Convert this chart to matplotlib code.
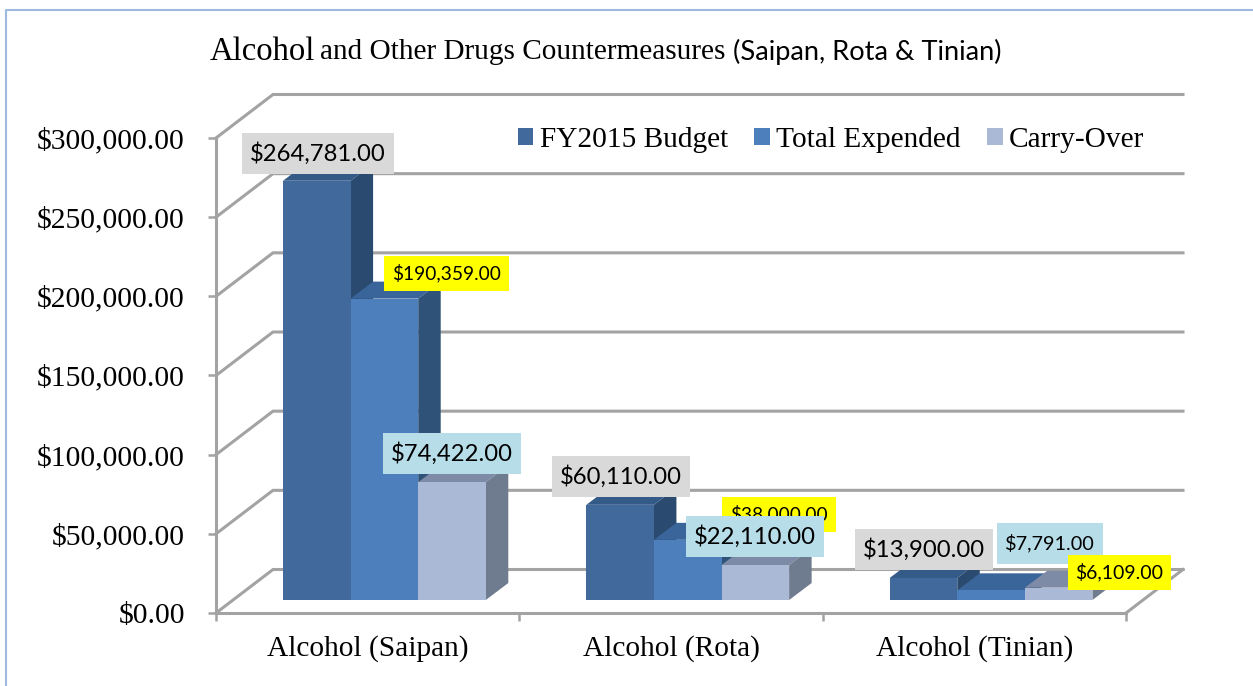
import matplotlib
matplotlib.use('Agg')
import matplotlib.pyplot as plt
from matplotlib.patches import Polygon, Rectangle, Patch
from matplotlib.ticker import FuncFormatter

categories = ['Alcohol (Saipan)', 'Alcohol (Rota)', 'Alcohol (Tinian)']
budget = [264781, 60110, 13900]
expended = [190359, 38000, 6109]
carry_over = [74422, 22110, 7791]

series_names = ['FY2015 Budget', 'Total Expended', 'Carry-Over']
front_cols = ['#41699B', '#4D7FBC', '#AAB9D6']
top_cols = ['#345A88', '#3A659A', '#7E8BA6']
side_cols = ['#2A4A70', '#2F5378', '#6F7B8E']

SERIF = 'Liberation Serif'
SANS = 'Lato'
GRID = '#A3A3A3'

W, H = 1253, 686
fig = plt.figure(figsize=(W/100, H/100), dpi=100)

# page layer in pixels, for the frame, title and label boxes
pg = fig.add_axes([0, 0, 1, 1], zorder=3)
pg.set_xlim(0, W)
pg.set_ylim(H, 0)
pg.axis('off')
pg.patch.set_alpha(0)

# front plane of the chart
L, R, Y0, Y1 = 216, 1126, 613, 138
ax = fig.add_axes([L/W, 1-Y0/H, (R-L)/W, (Y0-Y1)/H], zorder=2)
ax.set_xlim(0, 3)
ax.set_ylim(0, 300000)
ax.patch.set_alpha(0)

px = 3/(R-L)
py = 300000/(Y0-Y1)

# wall depth, bar depth, bar placement
wall_dx, wall_dy = 57*px, 43.5*py
bar_dx, bar_dy = 22.5*px, 17*py
base = 13*py
bar_w = 67.6*px
bar_start = 67*px

ticks = list(range(0, 300001, 50000))
for t in ticks:
    ax.plot([0, wall_dx, 3+wall_dx], [t, t+wall_dy, t+wall_dy], color=GRID, lw=2.2,
            clip_on=False, solid_joinstyle='miter', zorder=1)
ax.plot([3, 3+wall_dx], [0, wall_dy], color=GRID, lw=2.2, clip_on=False, zorder=1)

for k, vals in enumerate([budget, expended, carry_over]):
    xs = [i + bar_start + k*bar_w for i in range(len(vals))]
    for x, v in zip(xs, vals):
        top = base + v
        ax.add_patch(Polygon([(x, top), (x+bar_w, top), (x+bar_w+bar_dx, top+bar_dy), (x+bar_dx, top+bar_dy)],
                             fc=top_cols[k], ec='none', clip_on=False, zorder=2+k))
        ax.add_patch(Polygon([(x+bar_w, base), (x+bar_w+bar_dx, base+bar_dy), (x+bar_w+bar_dx, top+bar_dy), (x+bar_w, top)],
                             fc=side_cols[k], ec='none', clip_on=False, zorder=2+k))
    ax.bar(xs, vals, width=bar_w, bottom=base, align='edge', color=front_cols[k], zorder=2+k+0.5)

for s in ['top', 'right']:
    ax.spines[s].set_visible(False)
for s in ['left', 'bottom']:
    ax.spines[s].set_color(GRID)
    ax.spines[s].set_linewidth(2.2)
    ax.spines[s].set_zorder(1.5)

ax.set_yticks(ticks)
ax.yaxis.set_major_formatter(FuncFormatter(lambda v, p: f'${v:,.2f}'))
ax.tick_params(axis='y', length=5.5, width=1.8, color=GRID, pad=17, labelsize=21.3)
ax.set_xticks([0, 1, 2, 3])
ax.set_xticklabels([])
ax.tick_params(axis='x', which='major', length=5.5, width=1.8, color=GRID)
ax.set_xticks([0.5, 1.5, 2.5], minor=True)
ax.set_xticklabels(categories, minor=True)
ax.tick_params(axis='x', which='minor', length=0, pad=16, labelsize=21.2)
for t in ax.get_xticklabels(minor=True) + ax.get_yticklabels():
    t.set_fontfamily(SERIF)

# frame, open on the right and at the bottom
pg.plot([6, 6, W+5], [H+5, 10, 10], color='#9DB9DE', lw=1.5, clip_on=False)

# title, three runs in two fonts
pg.text(210, 52, 'Alcohol', family=SERIF, fontsize=23.5, va='center', ha='left', color='black')
pg.text(320, 52, 'and Other Drugs Countermeasures', family=SERIF, fontsize=21.1, va='center', ha='left', color='black')
pg.text(733, 52, '(Saipan, Rota & Tinian)', family=SANS, fontsize=19.6, va='center', ha='left', color='black')

# value labels: box left, right, top, bottom in page pixels
GRAY, YEL, BLU = '#D9D9D9', '#FFFF00', '#B7DDE8'
label_vals = [budget[0], expended[0], carry_over[0],
              budget[1], expended[1], carry_over[1],
              budget[2], carry_over[2], expended[2]]
label_boxes = [(242, 394, 133, 174), (384, 509, 256, 291), (383, 521, 433, 474),
               (552, 690, 456, 497), (722, 836, 497, 532), (686, 824, 516, 557),
               (855, 993, 529, 570), (997, 1103, 523, 564), (1068, 1171, 555, 590)]
label_cols = [GRAY, YEL, BLU, GRAY, YEL, BLU, GRAY, BLU, YEL]
label_sizes = [17.2, 13.8, 17.2, 17.2, 13.8, 17.2, 17.2, 14.3, 14.0]

for n, (v, b, c, fs) in enumerate(zip(label_vals, label_boxes, label_cols, label_sizes)):
    pg.add_patch(Rectangle((b[0], b[2]), b[1]-b[0], b[3]-b[2], fc=c, ec='none', zorder=5+n))
    pg.text((b[0]+b[1])/2, (b[2]+b[3])/2, f'${v:,.2f}', family=SANS, fontsize=fs,
            ha='center', va='center', color='black', zorder=5+n, clip_on=False)

# legend
handles = [Patch(fc=c, ec='none', label=n) for c, n in zip(front_cols, series_names)]
leg = pg.legend(handles=handles, ncol=3, frameon=False, loc='upper left',
                bbox_to_anchor=(512/W, 1-121/H), bbox_transform=fig.transFigure,
                prop={'family': SERIF, 'size': 21.2}, handlelength=0.52, handleheight=0.52,
                handletextpad=0.22, columnspacing=0.9, borderpad=0.2, borderaxespad=0)
leg.set_zorder(4)

fig.savefig('out.png', dpi=100)
